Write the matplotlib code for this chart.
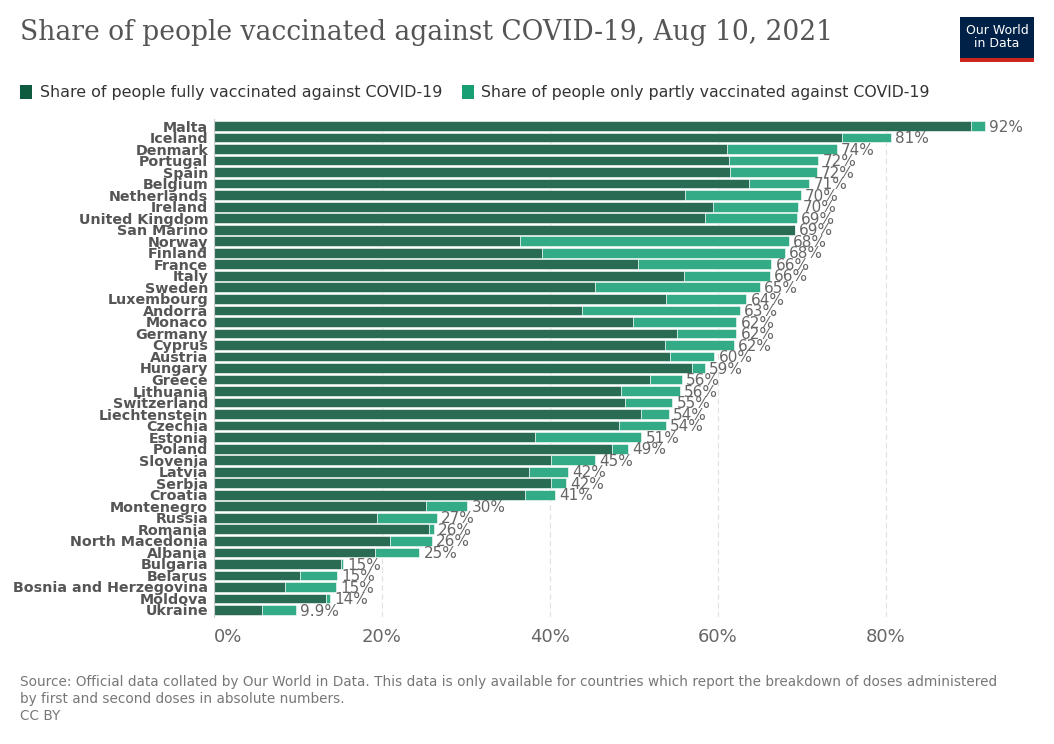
import matplotlib
matplotlib.use("Agg")
import matplotlib.pyplot as plt
from matplotlib.patches import Rectangle

# data (percent of population)
countries = ["Malta", "Iceland", "Denmark", "Portugal", "Spain", "Belgium", "Netherlands",
             "Ireland", "United Kingdom", "San Marino", "Norway", "Finland", "France", "Italy",
             "Sweden", "Luxembourg", "Andorra", "Monaco", "Germany", "Cyprus", "Austria",
             "Hungary", "Greece", "Lithuania", "Switzerland", "Liechtenstein", "Czechia",
             "Estonia", "Poland", "Slovenia", "Latvia", "Serbia", "Croatia", "Montenegro",
             "Russia", "Romania", "North Macedonia", "Albania", "Bulgaria", "Belarus",
             "Bosnia and Herzegovina", "Moldova", "Ukraine"]
fully = [90.2, 74.8, 61.1, 61.4, 61.5, 63.7, 56.1, 59.5, 58.5, 69.2, 36.5, 39.1, 50.5, 56.0,
         45.4, 53.9, 43.8, 49.9, 55.1, 53.7, 54.3, 56.9, 51.9, 48.5, 49.0, 50.9, 48.2, 38.3,
         47.4, 40.2, 37.5, 40.2, 37.0, 25.3, 19.4, 25.6, 21.0, 19.2, 15.2, 10.3, 8.5, 13.4, 5.7]
partly = [1.6, 5.8, 13.1, 10.6, 10.3, 7.2, 13.8, 10.1, 10.9, 0.0, 32.0, 28.9, 15.9, 10.2,
          19.6, 9.5, 18.8, 12.3, 7.1, 8.2, 5.3, 1.6, 3.8, 7.0, 5.6, 3.3, 5.6, 12.6,
          1.9, 5.2, 4.7, 1.8, 3.6, 4.9, 7.2, 0.6, 5.0, 5.3, 0.2, 4.4, 6.1, 0.5, 4.1]
labels = ["92%", "81%", "74%", "72%", "72%", "71%", "70%", "70%", "69%", "69%", "68%", "68%",
          "66%", "66%", "65%", "64%", "63%", "62%", "62%", "62%", "60%", "59%", "56%", "56%",
          "55%", "54%", "54%", "51%", "49%", "45%", "42%", "42%", "41%", "30%", "27%", "26%",
          "26%", "25%", "15%", "15%", "15%", "14%", "9.9%"]
xticks = [0, 20, 40, 60, 80]

W, H = 1054, 744
dark = "#2a6b53"
light = "#33ab86"

fig = plt.figure(figsize=(W / 100, H / 100), dpi=100)
ax = fig.add_axes([213.7 / W, 1 - 616.9 / H, 789.6 / W, 497.8 / H])

y = list(range(len(countries)))
totals = [f + p for f, p in zip(fully, partly)]
ax.barh(y, fully, height=0.84, color=dark, edgecolor="white", linewidth=0.4, zorder=2)
ax.barh(y, partly, left=fully, height=0.84, color=light, edgecolor="white", linewidth=0.4, zorder=2)

for yi, t, lab in zip(y, totals, labels):
    ax.text(t + 0.5, yi + 0.1, lab, va="center", ha="left", fontsize=11, color="#666666", zorder=3)

ax.set_xlim(0, 94)
ax.set_ylim(len(countries) - 0.4, -0.6)
ax.set_yticks(y)
ax.set_yticklabels(countries, fontsize=10.3, fontweight="bold", color="#555555")
ax.set_xticks(xticks)
ax.set_xticklabels([f"{v}%" for v in xticks], fontsize=13, color="#666666")
ax.get_xticklabels()[0].set_horizontalalignment("left")
ax.tick_params(axis="both", length=0)
ax.tick_params(axis="x", pad=8)
ax.tick_params(axis="y", pad=4)
for s in ["top", "right", "bottom"]:
    ax.spines[s].set_visible(False)
ax.spines["left"].set_color("#cccccc")
ax.spines["left"].set_linewidth(0.8)
ax.grid(axis="x", color="#e0e0e0", linestyle=(0, (5, 3)), linewidth=0.8, zorder=0)
ax.set_axisbelow(True)

# title
fig.text(20 / W, 1 - 33 / H, "Share of people vaccinated against COVID-19, Aug 10, 2021",
         fontsize=19.1, family="DejaVu Serif", color="#555555", va="center", ha="left")

# logo
fig.patches.append(Rectangle((960 / W, 1 - 62 / H), 74 / W, 45 / H, transform=fig.transFigure,
                             facecolor="#002147", edgecolor="none"))
fig.patches.append(Rectangle((960 / W, 1 - 62 / H), 74 / W, 4 / H, transform=fig.transFigure,
                             facecolor="#ce261e", edgecolor="none"))
fig.text(997 / W, 1 - 37 / H, "Our World\nin Data", fontsize=9, color="white", ha="center",
         va="center", linespacing=1.0)

# legend
fig.patches.append(Rectangle((20 / W, 1 - 99 / H), 12 / W, 14 / H, transform=fig.transFigure,
                             facecolor="#0f5b3f", edgecolor="none"))
fig.text(40 / W, 1 - 92 / H, "Share of people fully vaccinated against COVID-19",
         fontsize=11.4, color="#333333", va="center", ha="left")
fig.patches.append(Rectangle((462 / W, 1 - 99 / H), 12 / W, 14 / H, transform=fig.transFigure,
                             facecolor="#18a074", edgecolor="none"))
fig.text(481 / W, 1 - 92 / H, "Share of people only partly vaccinated against COVID-19",
         fontsize=11.3, color="#333333", va="center", ha="left")

# footer
fig.text(20 / W, 1 - 682 / H,
         "Source: Official data collated by Our World in Data. This data is only available for countries which report the breakdown of doses administered",
         fontsize=9.8, color="#777777", va="center", ha="left")
fig.text(20 / W, 1 - 699 / H, "by first and second doses in absolute numbers.",
         fontsize=9.8, color="#777777", va="center", ha="left")
fig.text(20 / W, 1 - 716 / H, "CC BY", fontsize=9.8, color="#777777", va="center", ha="left")

fig.savefig("out.png", dpi=100)
